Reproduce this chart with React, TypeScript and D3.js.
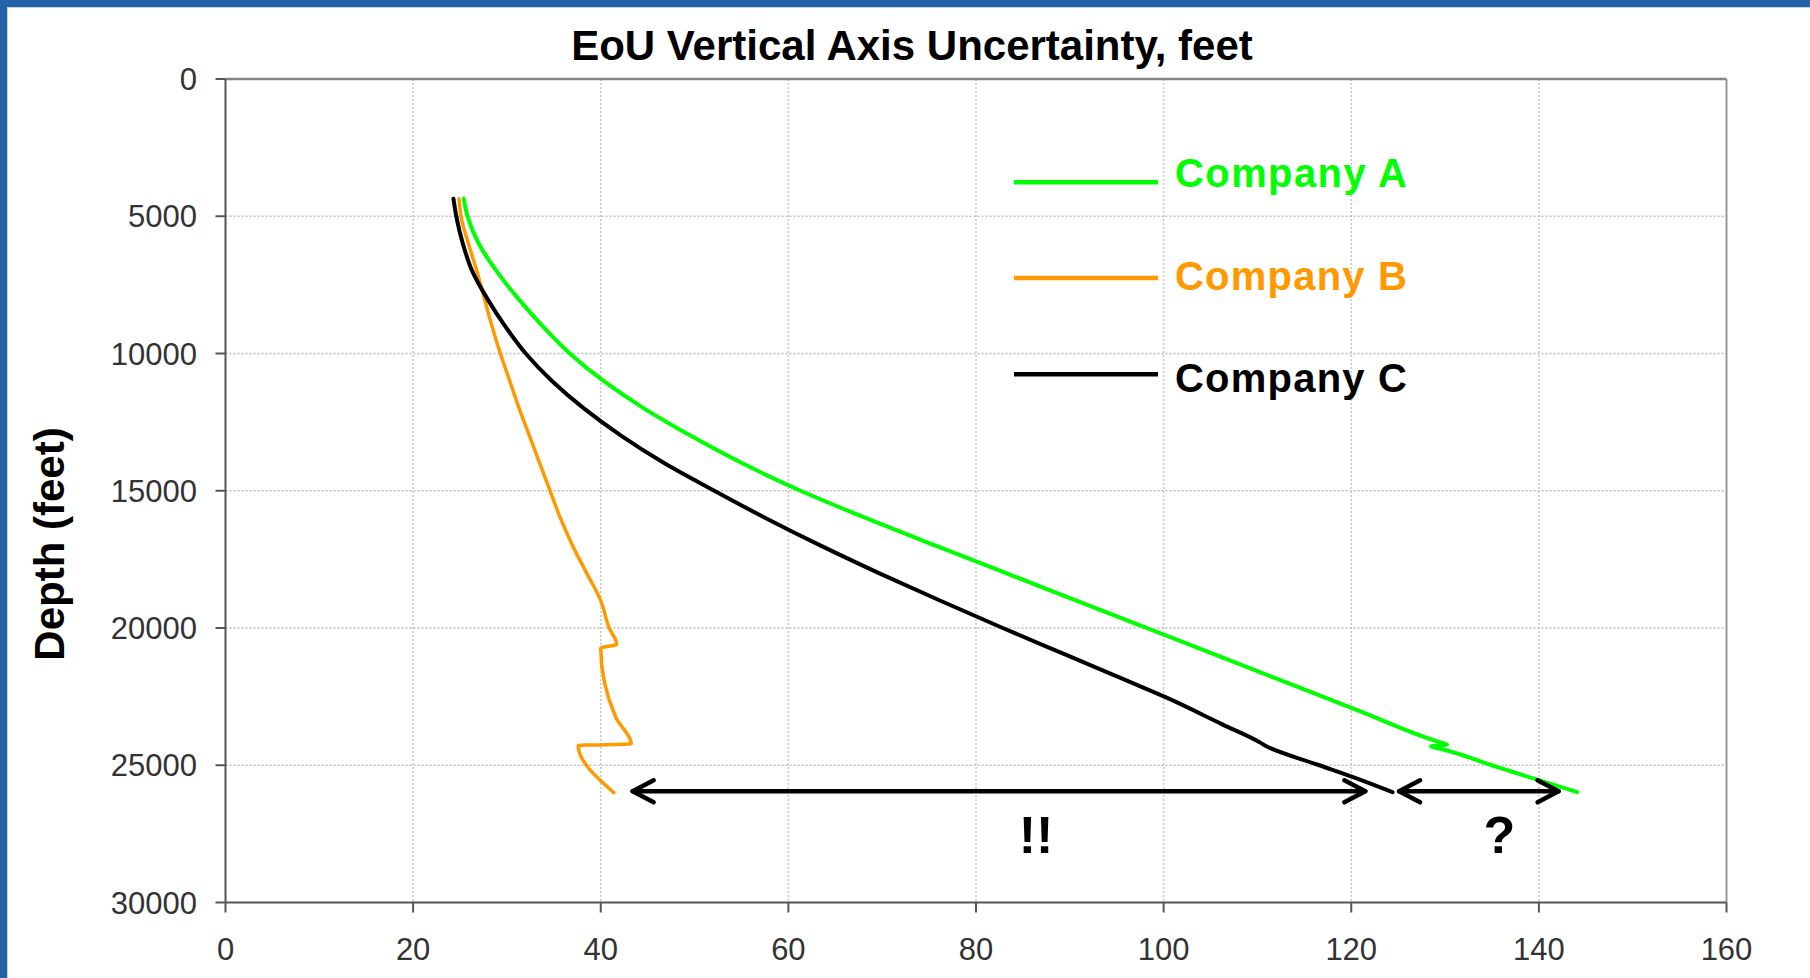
import React from 'react';
import * as d3 from 'd3';

// ---------- data ----------
const xTicks = [0, 20, 40, 60, 80, 100, 120, 140, 160];
const yTicks = [0, 5000, 10000, 15000, 20000, 25000, 30000];

const seriesNames = ['Company A', 'Company B', 'Company C'];
const seriesColors = ['#00ff00', '#ff9900', '#000000'];

// Company A (green): depth (ft) and uncertainty (ft)
const companyADepth = [4364, 5000, 6000, 7000, 8000, 9000, 10000, 11000, 12000, 13000, 14000, 15000, 16000, 17000, 18000, 19000, 20000, 21000, 22000, 23000, 24160, 24244, 24317, 24400, 25071, 25982];
const companyAValue = [25.4, 25.8, 27.0, 28.9, 31.2, 33.8, 36.7, 40.3, 44.6, 49.6, 55.1, 61.3, 68.3, 75.7, 83.2, 90.7, 98.2, 105.7, 113.2, 120.7, 129.4, 130.2, 128.5, 129.5, 135.6, 144.1];

// Company B (orange)
const companyBDepth = [4364, 5000, 6000, 7000, 8000, 9000, 10000, 11000, 12000, 13000, 14000, 15000, 16000, 17000, 18000, 19000, 20000, 20590, 20740, 23249, 24219, 24281, 26000];
const companyBValue = [24.9, 25.1, 25.9, 26.8, 27.6, 28.4, 29.3, 30.3, 31.3, 32.4, 33.5, 34.6, 35.7, 37.0, 38.5, 40.0, 40.9, 41.7, 40.0, 41.6, 43.25, 37.6, 41.4];

// Company C (black)
const companyCDepth = [4364, 5000, 6000, 7000, 8000, 9000, 10000, 11000, 12000, 13000, 14000, 15000, 16000, 17000, 18000, 19000, 20000, 21000, 22000, 22520, 23500, 24175, 24300, 25000, 25435, 25982];
const companyCValue = [24.3, 24.6, 25.3, 26.3, 27.9, 29.8, 32.0, 34.8, 38.2, 42.2, 46.8, 52.1, 57.6, 63.45, 69.65, 76.15, 82.85, 89.75, 96.65, 100.2, 106.2, 110.3, 110.9, 116.6, 120.2, 124.4];

// annotation arrows (value range at a given depth)
const arrowStarts = [43.4, 125.1];
const arrowEnds = [121.5, 142.1];
const arrowDepth = 25950;
const noteLabels = ['!!', '?'];
const noteValues = [86.4, 135.8];
const noteDepth = 28180;

// ---------- layout ----------
const W = 1810;
const H = 978;
const left = 225.5;
const right = 1726.5;
const top = 79;
const bottom = 902.5;

const x = d3.scaleLinear().domain([0, 160]).range([left, right]);
const y = d3.scaleLinear().domain([0, 30000]).range([top, bottom]);

const font = "'Liberation Sans', Arial, sans-serif";

function zip(d: number[], v: number[]): [number, number][] {
  return d.map((dd, i) => [dd, v[i]]);
}

const series = [
  zip(companyADepth, companyAValue),
  zip(companyBDepth, companyBValue),
  zip(companyCDepth, companyCValue),
];

const line = d3
  .line<[number, number]>()
  .x((d) => x(d[1]))
  .y((d) => y(d[0]))
  .curve(d3.curveMonotoneY);

const strokeWidths = [4, 3.5, 4];

export default function App() {
  React.useEffect(() => {
    document.body.style.margin = '0';
  }, []);

  const ay = y(arrowDepth);
  const headL = 21;
  const headH = 11;

  return (
    <div style={{ position: 'absolute', left: 0, top: 0 }}>
      <svg width={W} height={H} style={{ display: 'block', background: '#fff' }}>
        {/* frame */}
        <rect x={0} y={0} width={W} height={H} fill="#ffffff" />
        <rect x={0} y={0} width={W} height={7} fill="#2462a9" />
        <rect x={0} y={0} width={7} height={H} fill="#2462a9" />
        <line x1={7} x2={W} y1={7.5} y2={7.5} stroke="#d0d0d0" strokeWidth={1} />
        <line x1={7.5} x2={7.5} y1={7} y2={H} stroke="#d0d0d0" strokeWidth={1} />

        {/* title */}
        <text x={912} y={59.5} textAnchor="middle" fontFamily={font} fontWeight="bold" fontSize={42} fill="#000">
          EoU Vertical Axis Uncertainty, feet
        </text>

        {/* gridlines */}
        {xTicks.slice(1, -1).map((t) => (
          <line key={'gx' + t} x1={x(t)} x2={x(t)} y1={top} y2={bottom} stroke="#c8c8c8" strokeWidth={1.5} strokeDasharray="2 2" />
        ))}
        {yTicks.slice(1, -1).map((t) => (
          <line key={'gy' + t} x1={left} x2={right} y1={y(t)} y2={y(t)} stroke="#bdbdbd" strokeWidth={1.5} strokeDasharray="2 2" />
        ))}

        {/* plot border */}
        <line x1={left} x2={right} y1={top} y2={top} stroke="#858585" strokeWidth={2.5} />
        <line x1={right} x2={right} y1={top} y2={bottom} stroke="#999" strokeWidth={2} />
        <line x1={left} x2={left} y1={top} y2={bottom} stroke="#555" strokeWidth={2} />
        <line x1={left} x2={right} y1={bottom} y2={bottom} stroke="#555" strokeWidth={2} />

        {/* y ticks */}
        {yTicks.map((t) => (
          <g key={'ty' + t}>
            <line x1={left - 10} x2={left} y1={y(t)} y2={y(t)} stroke="#555" strokeWidth={2} />
            <text x={197} y={y(t) + 11} textAnchor="end" fontFamily={font} fontSize={31} fill="#333">
              {t}
            </text>
          </g>
        ))}
        {/* x ticks */}
        {xTicks.map((t) => (
          <g key={'tx' + t}>
            <line x1={x(t)} x2={x(t)} y1={bottom} y2={bottom + 10} stroke="#555" strokeWidth={2} />
            <text x={x(t)} y={960} textAnchor="middle" fontFamily={font} fontSize={31} fill="#333">
              {t}
            </text>
          </g>
        ))}

        {/* y axis title */}
        <text
          transform="translate(63.5,544) rotate(-90)"
          textAnchor="middle"
          fontFamily={font}
          fontWeight="bold"
          fontSize={42}
          fill="#000"
        >
          Depth (feet)
        </text>

        {/* series */}
        {series.map((s, i) => (
          <path
            key={'s' + i}
            d={line(s) || ''}
            fill="none"
            stroke={seriesColors[i]}
            strokeWidth={strokeWidths[i]}
            strokeLinejoin="round"
            strokeLinecap="round"
          />
        ))}

        {/* legend */}
        {seriesNames.map((n, i) => {
          const ly = [182.3, 278, 374.3][i];
          const ty = [187, 290, 392][i];
          return (
            <g key={'lg' + i}>
              <line x1={1014} x2={1158} y1={ly} y2={ly} stroke={seriesColors[i]} strokeWidth={4.5} />
              <text
                x={1175}
                y={ty}
                fontFamily={font}
                fontWeight="bold"
                fontSize={40}
                fill={seriesColors[i]}
                textLength={232}
                lengthAdjust="spacing"
              >
                {n}
              </text>
            </g>
          );
        })}

        {/* annotation arrows */}
        {arrowStarts.map((s, i) => {
          const x1 = x(s);
          const x2 = x(arrowEnds[i]);
          return (
            <g key={'ar' + i} stroke="#000" strokeWidth={4.5} fill="none" strokeLinecap="round" strokeLinejoin="round">
              <line x1={x1} x2={x2} y1={ay} y2={ay} />
              <path d={`M${x1 + headL},${ay - headH} L${x1},${ay} L${x1 + headL},${ay + headH}`} />
              <path d={`M${x2 - headL},${ay - headH} L${x2},${ay} L${x2 - headL},${ay + headH}`} />
            </g>
          );
        })}
        {noteLabels.map((l, i) => (
          <text
            key={'nt' + i}
            x={x(noteValues[i])}
            y={y(noteDepth)}
            textAnchor="middle"
            fontFamily={font}
            fontWeight="bold"
            fontSize={52}
            fill="#000"
          >
            {l}
          </text>
        ))}
      </svg>
    </div>
  );
}
